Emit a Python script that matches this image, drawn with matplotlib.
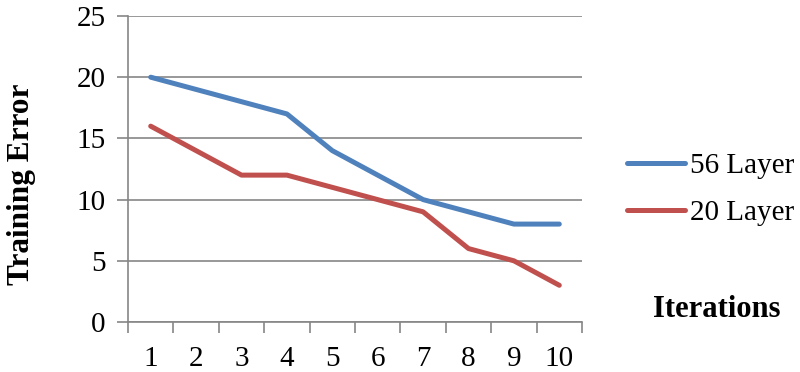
import matplotlib
matplotlib.use('Agg')
import matplotlib.pyplot as plt
import numpy as np

iterations = [1, 2, 3, 4, 5, 6, 7, 8, 9, 10]
layer56 = [20, 19, 18, 17, 14, 12, 10, 9, 8, 8]
layer20 = [16, 14, 12, 12, 11, 10, 9, 6, 5, 3]
series_names = ['56 Layer', '20 Layer']

plt.rcParams['font.family'] = ['Liberation Serif', 'DejaVu Serif']

fig = plt.figure(figsize=(8, 3.72), dpi=100)
ax = fig.add_axes([0.16, 0.1344, 0.5675, 0.8226])

grid_color = '#868686'
ax.plot(iterations, layer56, color='#4F81BD', linewidth=3.6, label=series_names[0], solid_capstyle='round')
ax.plot(iterations, layer20, color='#C0504D', linewidth=3.6, label=series_names[1], solid_capstyle='round')

ax.set_xlim(0.5, 10.5)
ax.set_ylim(0, 25)
ax.set_yticks(np.arange(0, 26, 5))
ax.set_xticks(np.arange(0.5, 11, 1))
ax.set_xticklabels([])
ax.set_xticks(iterations, minor=True)
ax.set_xticklabels([str(i) for i in iterations], minor=True)
ax.tick_params(axis='x', which='minor', length=0, pad=17, labelsize=21)
ax.tick_params(axis='x', which='major', length=8, width=1.2, color=grid_color, direction='out')
ax.tick_params(axis='y', length=8, width=1.2, color=grid_color, pad=8, labelsize=21)

ax.yaxis.grid(True, color=grid_color, linewidth=1.2)
ax.set_axisbelow(True)
for side in ['top', 'right']:
    ax.spines[side].set_visible(False)
for side in ['left', 'bottom']:
    ax.spines[side].set_color(grid_color)
    ax.spines[side].set_linewidth(1.2)

fig.text(0.027, 0.505, 'Training Error', rotation=90, ha='center', va='center',
         fontsize=22.5, fontweight='bold')
fig.text(0.896, 0.167, 'Iterations', ha='center', va='center',
         fontsize=22, fontweight='bold')

fig.legend(loc='upper left', bbox_to_anchor=(0.751, 0.66), frameon=False,
           fontsize=21, handlelength=2.0, handletextpad=0.15, labelspacing=0.7)

plt.savefig('out.png', dpi=100)
plt.close()
